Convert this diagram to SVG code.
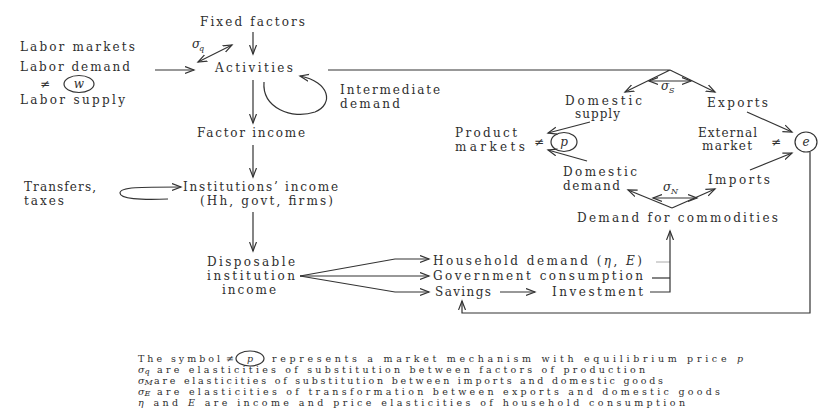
<svg xmlns="http://www.w3.org/2000/svg" width="821" height="414" viewBox="0 0 821 414">
<style>
text{font-family:"DejaVu Serif","Liberation Serif",serif;font-size:12px;fill:#2e2e2e}
.lg{font-size:9.5px}
.it{font-style:italic}
.sub{font-size:8px;font-style:italic}
.ln{fill:none;stroke:#333;stroke-width:1.2}
.fa{fill:none;stroke:#aaa;stroke-width:1}
.ci{fill:none;stroke:#333;stroke-width:1.2}
</style>
<defs>
<marker id="a" markerWidth="11" markerHeight="9" refX="9" refY="4.5" orient="auto-start-reverse" markerUnits="userSpaceOnUse">
<path d="M0,1 L9,4.5 L0,8" fill="none" stroke="#333" stroke-width="1.2"/>
</marker>
</defs>
<rect width="821" height="414" fill="#fff"/>

<g id="connectors">
<path class="ln" d="M253,32 L253,54" marker-end="url(#a)"/>
<path class="ln" d="M198,62 L232,45" marker-start="url(#a)" marker-end="url(#a)"/>
<path class="ln" d="M155,70 L194,70" marker-end="url(#a)"/>
<path class="ln" d="M264,82 C262,108 292,120 315,112 C334,104 330,82 300,76" marker-end="url(#a)"/>
<path class="ln" d="M253,80 L253,123" marker-end="url(#a)"/>
<path class="ln" d="M253,145 L253,177" marker-end="url(#a)"/>
<path class="ln" d="M168,199 C140,200 120,199 120,193 C120,187 140,187 181,187" marker-end="url(#a)"/>
<path class="ln" d="M253,212 L253,251" marker-end="url(#a)"/>
<path class="ln" d="M300,276 L395,259 L429,259" marker-end="url(#a)"/>
<path class="ln" d="M300,276 L429,276" marker-end="url(#a)"/>
<path class="ln" d="M300,276 L395,292 L429,292" marker-end="url(#a)"/>
<path class="ln" d="M500,292 L535,292" marker-end="url(#a)"/>
<path class="fa" d="M656,262 L670,262"/>
<path class="ln" d="M652,278 L670,278"/>
<path class="ln" d="M650,292 L670,292 L670,231" marker-end="url(#a)"/>
<path class="ln" d="M810,152 L810,313 L462,313 L462,301" marker-end="url(#a)"/>
<path class="ln" d="M328,70 L670,70 L625,92" marker-end="url(#a)"/>
<path class="ln" d="M670,70 L715,92" marker-end="url(#a)"/>
<path class="ln" d="M649,81 L691,81" marker-start="url(#a)" marker-end="url(#a)"/>
<path class="ln" d="M590,122 L548,133" marker-end="url(#a)"/>
<path class="ln" d="M587,161 L548,150" marker-end="url(#a)"/>
<path class="ln" d="M747,112 L792,132" marker-end="url(#a)"/>
<path class="ln" d="M750,170 L792,153" marker-end="url(#a)"/>
<path class="ln" d="M672,208 L628,190" marker-end="url(#a)"/>
<path class="ln" d="M672,208 L715,189" marker-end="url(#a)"/>
<path class="ln" d="M653,198 L697,198" marker-start="url(#a)" marker-end="url(#a)"/>
</g>

<g id="fixed-factors"><text x="200" y="26" textLength="105" lengthAdjust="spacing">Fixed factors</text></g>
<g id="sigma-q"><text x="192" y="48" class="it">σ</text><text x="199" y="51" class="sub">q</text></g>
<g id="labor">
<text x="20" y="51" textLength="115" lengthAdjust="spacing">Labor markets</text>
<text x="20" y="71" textLength="110" lengthAdjust="spacing">Labor demand</text>
<text x="40" y="88">≠</text>
<ellipse class="ci" cx="79" cy="84" rx="15" ry="8.5"/>
<text x="79" y="88" class="it" text-anchor="middle" font-size="10">w</text>
<text x="20" y="104" textLength="105" lengthAdjust="spacing">Labor supply</text>
</g>
<g id="activities"><text x="215" y="72" textLength="78" lengthAdjust="spacing">Activities</text></g>
<g id="intermediate-demand">
<text x="340" y="94" textLength="100" lengthAdjust="spacing">Intermediate</text>
<text x="340" y="108" textLength="60" lengthAdjust="spacing">demand</text>
</g>
<g id="factor-income"><text x="197" y="137" textLength="108" lengthAdjust="spacing">Factor income</text></g>
<g id="transfers"><text x="24" y="191" textLength="72" lengthAdjust="spacing">Transfers,</text><text x="24" y="205" textLength="40" lengthAdjust="spacing">taxes</text></g>
<g id="institutions-income">
<text x="183" y="191" textLength="155" lengthAdjust="spacing">Institutions’ income</text>
<text x="200" y="205" textLength="133" lengthAdjust="spacing">(Hh, govt, firms)</text>
</g>
<g id="disposable-income">
<text x="207" y="266" textLength="88" lengthAdjust="spacing">Disposable</text>
<text x="207" y="280" textLength="88" lengthAdjust="spacing">institution</text>
<text x="222" y="294" textLength="54" lengthAdjust="spacing">income</text>
</g>
<g id="household-demand"><text x="433" y="265" textLength="209" lengthAdjust="spacing">Household demand (<tspan class="it">η</tspan>, <tspan class="it">E</tspan>)</text></g>
<g id="government-consumption"><text x="433" y="280" textLength="210" lengthAdjust="spacing">Government consumption</text></g>
<g id="savings"><text x="435" y="296" textLength="56" lengthAdjust="spacing">Savings</text></g>
<g id="investment"><text x="552" y="296" textLength="91" lengthAdjust="spacing">Investment</text></g>
<g id="demand-commodities"><text x="577" y="222" textLength="201" lengthAdjust="spacing">Demand for commodities</text></g>
<g id="sigma-s"><text x="661" y="90" class="it">σ</text><text x="669" y="93" class="sub">S</text></g>
<g id="domestic-supply">
<text x="565" y="104.5" textLength="77" lengthAdjust="spacing">Domestic</text>
<text x="575" y="118" textLength="45" lengthAdjust="spacing">supply</text>
</g>
<g id="exports"><text x="707" y="107" textLength="61" lengthAdjust="spacing">Exports</text></g>
<g id="product-markets">
<text x="455" y="136.5" textLength="62" lengthAdjust="spacing">Product</text>
<text x="455" y="150.5" textLength="70" lengthAdjust="spacing">markets</text>
<text x="534" y="146">≠</text>
<ellipse class="ci" cx="564" cy="142" rx="13" ry="9.5"/>
<text x="564" y="146" class="it" text-anchor="middle" font-size="11">p</text>
</g>
<g id="external-market">
<text x="698" y="136.5" textLength="59" lengthAdjust="spacing">External</text>
<text x="702" y="150" textLength="50" lengthAdjust="spacing">market</text>
<text x="771" y="146">≠</text>
<ellipse class="ci" cx="806" cy="142" rx="11" ry="10"/>
<text x="806" y="146" class="it" text-anchor="middle" font-size="10">e</text>
</g>
<g id="imports"><text x="708" y="184" textLength="62" lengthAdjust="spacing">Imports</text></g>
<g id="domestic-demand">
<text x="563" y="175.5" textLength="74" lengthAdjust="spacing">Domestic</text>
<text x="563" y="189.5" textLength="57" lengthAdjust="spacing">demand</text>
</g>
<g id="sigma-n"><text x="663" y="191" class="it">σ</text><text x="671" y="194" class="sub">N</text></g>

<g id="legend">
<text class="lg" x="138" y="362" textLength="82" lengthAdjust="spacing">The symbol</text>
<text class="lg" x="226" y="362">≠</text>
<ellipse class="ci" cx="250" cy="358.5" rx="14" ry="7.5"/>
<text class="lg it" x="250" y="362" text-anchor="middle">p</text>
<text class="lg" x="272" y="362" textLength="471" lengthAdjust="spacing">represents a market mechanism with equilibrium price <tspan class="it">p</tspan></text>
<text class="lg it" x="138" y="373">σ</text><text class="sub" x="144.5" y="374" font-size="6">q</text>
<text class="lg" x="157" y="373" textLength="488" lengthAdjust="spacing">are elasticities of substitution between factors of production</text>
<text class="lg it" x="138" y="384">σ</text><text class="sub" x="144.5" y="385" font-size="6">M</text>
<text class="lg" x="154" y="384" textLength="509" lengthAdjust="spacing">are elasticities of substitution between imports and domestic goods</text>
<text class="lg it" x="138" y="395">σ</text><text class="sub" x="144.5" y="396" font-size="6">E</text>
<text class="lg" x="157" y="395" textLength="563" lengthAdjust="spacing">are elasticities of transformation between exports and domestic goods</text>
<text class="lg" x="138" y="406" textLength="547" lengthAdjust="spacing"><tspan class="it">η</tspan> and <tspan class="it">E</tspan> are income and price elasticities of household consumption</text>
</g>
</svg>
